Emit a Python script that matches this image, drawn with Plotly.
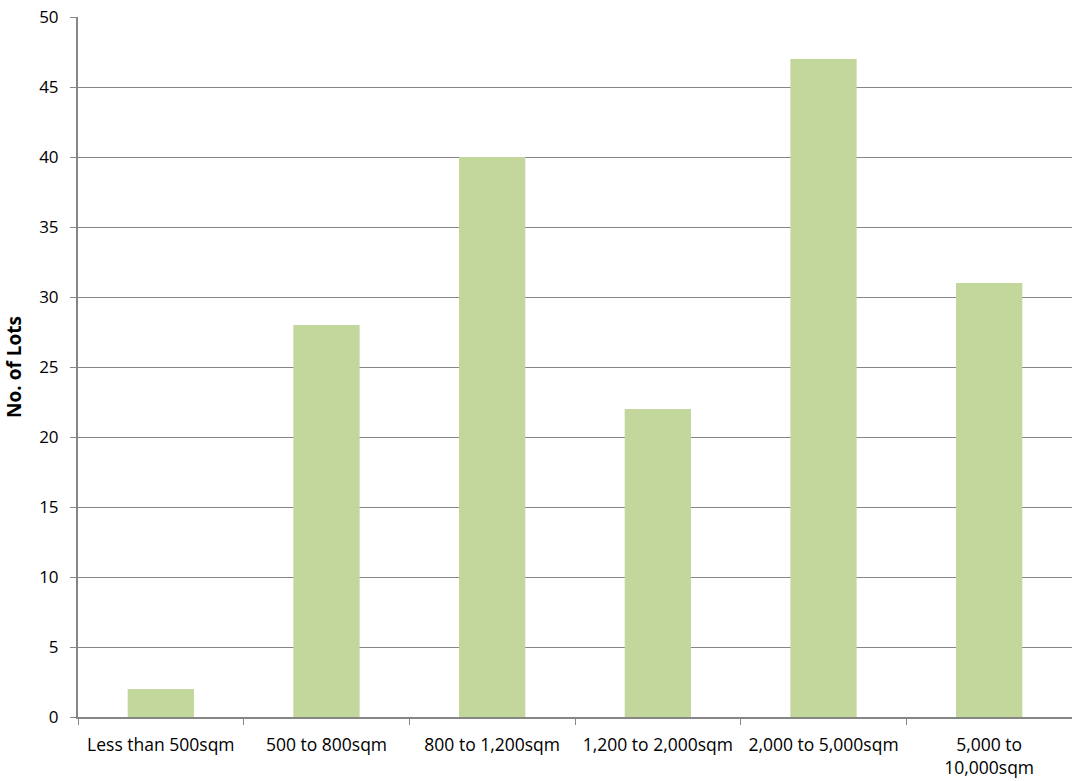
import plotly.graph_objects as go

# Lot size bands and number of lots in each
categories = [
    "Less than 500sqm",
    "500 to 800sqm",
    "800 to 1,200sqm",
    "1,200 to 2,000sqm",
    "2,000 to 5,000sqm",
    "5,000 to<br>10,000sqm",
]
lots = [2, 28, 40, 22, 47, 31]
y_ticks = [0, 5, 10, 15, 20, 25, 30, 35, 40, 45, 50]

font_family = "'Open Sans', Lato, sans-serif"
axis_grey = "#868686"

fig = go.Figure(
    go.Bar(
        x=categories,
        y=lots,
        marker=dict(color="#C3D69B", line=dict(width=0)),
        hoverinfo="x+y",
    )
)

fig.update_layout(
    width=1072,
    height=781,
    margin=dict(l=78, r=0, t=17, b=64),
    paper_bgcolor="white",
    plot_bgcolor="white",
    bargap=0.6,
    showlegend=False,
    font=dict(family=font_family, size=15, color="#000000"),
)

fig.update_xaxes(
    showline=True,
    linecolor=axis_grey,
    linewidth=2,
    ticks="outside",
    tickson="boundaries",
    ticklen=6,
    tickcolor=axis_grey,
    tickwidth=1,
    showgrid=False,
    tickfont=dict(size=17.5),
    ticklabelstandoff=11,
)

fig.update_yaxes(
    range=[0, 50],
    tickvals=y_ticks,
    showline=True,
    linecolor=axis_grey,
    linewidth=2,
    ticks="outside",
    ticklen=6,
    tickcolor=axis_grey,
    showgrid=True,
    gridcolor=axis_grey,
    gridwidth=1,
    zeroline=False,
    tickfont=dict(size=17),
    ticklabelstandoff=8,
    title=dict(text="<b>No. of Lots</b>", font=dict(size=19), standoff=12),
)

fig.write_html("out.html")
